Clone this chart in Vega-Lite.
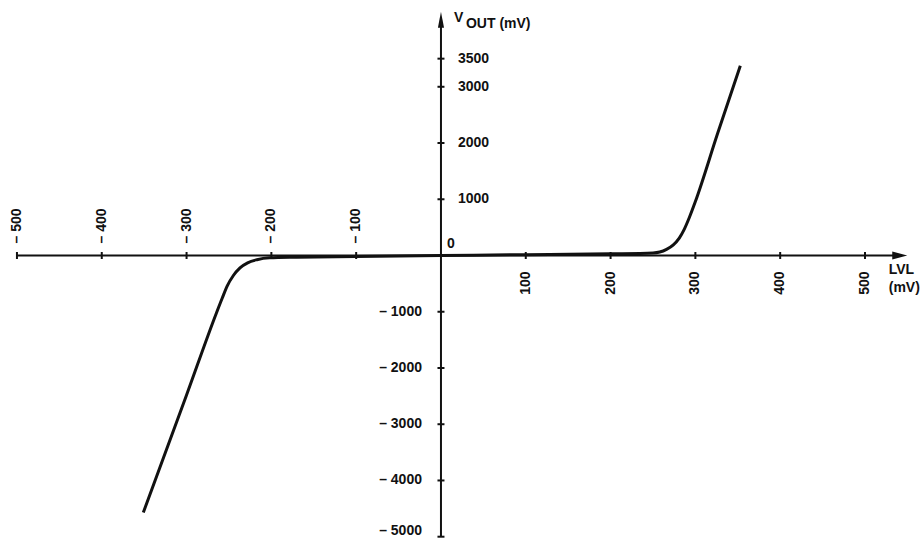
{
  "$schema": "https://vega.github.io/schema/vega-lite/v6.json",
  "width": 924,
  "height": 538,
  "padding": 0,
  "autosize": "none",
  "background": "white",
  "config": {
    "view": {"stroke": null},
    "text": {"font": "Liberation Sans", "fontWeight": "bold", "fontSize": 14, "color": "#111111"}
  },
  "encoding": {
    "x": {"field": "x", "type": "quantitative", "scale": {"domain": [-520, 569.6], "nice": false, "zero": false}, "axis": null},
    "y": {"field": "y", "type": "quantitative", "scale": {"domain": [-5023, 4543], "nice": false, "zero": false}, "axis": null}
  },
  "layer": [
    {
      "data": {"values": [{"x": -500, "x2": 541, "y": 0}]},
      "mark": {"type": "rule", "strokeWidth": 2, "color": "#111111"},
      "encoding": {"x2": {"field": "x2"}}
    },
    {
      "data": {"values": [{"x": 0, "y": -5000, "y2": 4190}]},
      "mark": {"type": "rule", "strokeWidth": 2, "color": "#111111"},
      "encoding": {"y2": {"field": "y2"}}
    },
    {
      "data": {"values": [
        {"x": -500, "y": 0}, {"x": -400, "y": 0}, {"x": -300, "y": 0}, {"x": -200, "y": 0}, {"x": -100, "y": 0},
        {"x": 100, "y": 0}, {"x": 200, "y": 0}, {"x": 300, "y": 0}, {"x": 400, "y": 0}, {"x": 500, "y": 0}
      ]},
      "mark": {"type": "tick", "orient": "vertical", "size": 7, "thickness": 2, "color": "#111111", "opacity": 1}
    },
    {
      "data": {"values": [
        {"x": 0, "y": 3500}, {"x": 0, "y": 3000}, {"x": 0, "y": 2000}, {"x": 0, "y": 1000},
        {"x": 0, "y": -1000}, {"x": 0, "y": -2000}, {"x": 0, "y": -3000}, {"x": 0, "y": -4000}, {"x": 0, "y": -5000}
      ]},
      "mark": {"type": "tick", "orient": "horizontal", "size": 7, "thickness": 2, "color": "#111111", "opacity": 1}
    },
    {
      "data": {"values": [
        {"x": -351, "y": -4570},
        {"x": -300, "y": -2480},
        {"x": -265, "y": -1030},
        {"x": -258, "y": -760},
        {"x": -252, "y": -540},
        {"x": -245, "y": -360},
        {"x": -237, "y": -220},
        {"x": -228, "y": -130},
        {"x": -217, "y": -75},
        {"x": -202, "y": -42},
        {"x": -170, "y": -30},
        {"x": -100, "y": -18},
        {"x": 0, "y": 0},
        {"x": 100, "y": 15},
        {"x": 200, "y": 30},
        {"x": 250, "y": 45},
        {"x": 258, "y": 62},
        {"x": 266, "y": 110},
        {"x": 274, "y": 190},
        {"x": 281, "y": 310},
        {"x": 287, "y": 470},
        {"x": 293, "y": 680},
        {"x": 300, "y": 960},
        {"x": 326, "y": 2160},
        {"x": 353, "y": 3374}
      ]},
      "mark": {"type": "line", "strokeWidth": 3, "color": "#111111", "interpolate": "monotone"}
    },
    {
      "data": {"values": [{"x": 541, "y": 0}]},
      "mark": {"type": "point", "filled": true, "opacity": 1, "color": "#111111", "size": 225, "shape": "M1,0L-1,-0.53L-1,0.53Z"}
    },
    {
      "data": {"values": [{"x": 0, "y": 4190}]},
      "mark": {"type": "point", "filled": true, "opacity": 1, "color": "#111111", "size": 256, "shape": "M0,-1L-0.38,1L0.38,1Z"}
    },
    {
      "data": {"values": [
        {"x": -500, "y": 0, "label": "– 500"}, {"x": -400, "y": 0, "label": "– 400"}, {"x": -300, "y": 0, "label": "– 300"},
        {"x": -200, "y": 0, "label": "– 200"}, {"x": -100, "y": 0, "label": "– 100"}
      ]},
      "mark": {"type": "text", "angle": 270, "align": "left", "baseline": "middle", "dx": 12},
      "encoding": {"text": {"field": "label"}}
    },
    {
      "data": {"values": [
        {"x": 100, "y": 0, "label": "100"}, {"x": 200, "y": 0, "label": "200"}, {"x": 300, "y": 0, "label": "300"},
        {"x": 400, "y": 0, "label": "400"}, {"x": 500, "y": 0, "label": "500"}
      ]},
      "mark": {"type": "text", "angle": 270, "align": "right", "baseline": "middle", "dx": -16},
      "encoding": {"text": {"field": "label"}}
    },
    {
      "data": {"values": [
        {"x": 0, "y": 3500, "label": "3500"}, {"x": 0, "y": 3000, "label": "3000"},
        {"x": 0, "y": 2000, "label": "2000"}, {"x": 0, "y": 1000, "label": "1000"}
      ]},
      "mark": {"type": "text", "align": "left", "baseline": "middle", "dx": 17},
      "encoding": {"text": {"field": "label"}}
    },
    {
      "data": {"values": [
        {"x": 0, "y": -1000, "label": "– 1000"}, {"x": 0, "y": -2000, "label": "– 2000"},
        {"x": 0, "y": -3000, "label": "– 3000"}, {"x": 0, "y": -4000, "label": "– 4000"}
      ]},
      "mark": {"type": "text", "align": "right", "baseline": "middle", "dx": -19},
      "encoding": {"text": {"field": "label"}}
    },
    {
      "data": {"values": [{"x": 0, "y": -5000, "label": "– 5000"}]},
      "mark": {"type": "text", "align": "right", "baseline": "bottom", "dx": -19, "dy": 1},
      "encoding": {"text": {"field": "label"}}
    },
    {
      "data": {"values": [{"x": 0, "y": 0, "label": "0"}]},
      "mark": {"type": "text", "align": "left", "baseline": "middle", "dx": 6, "dy": -12},
      "encoding": {"text": {"field": "label"}}
    },
    {
      "data": {"values": [{"x": 0, "y": 4190, "label": "V"}]},
      "mark": {"type": "text", "align": "left", "baseline": "middle", "dx": 13, "dy": -2},
      "encoding": {"text": {"field": "label"}}
    },
    {
      "data": {"values": [{"x": 0, "y": 4190, "label": "OUT (mV)"}]},
      "mark": {"type": "text", "align": "left", "baseline": "middle", "dx": 25, "dy": 4},
      "encoding": {"text": {"field": "label"}}
    },
    {
      "data": {"values": [{"x": 541, "y": 0, "label": "LVL"}]},
      "mark": {"type": "text", "align": "left", "baseline": "middle", "dx": -11, "dy": 14},
      "encoding": {"text": {"field": "label"}}
    },
    {
      "data": {"values": [{"x": 541, "y": 0, "label": "(mV)"}]},
      "mark": {"type": "text", "align": "left", "baseline": "middle", "dx": -11, "dy": 32},
      "encoding": {"text": {"field": "label"}}
    }
  ]
}
